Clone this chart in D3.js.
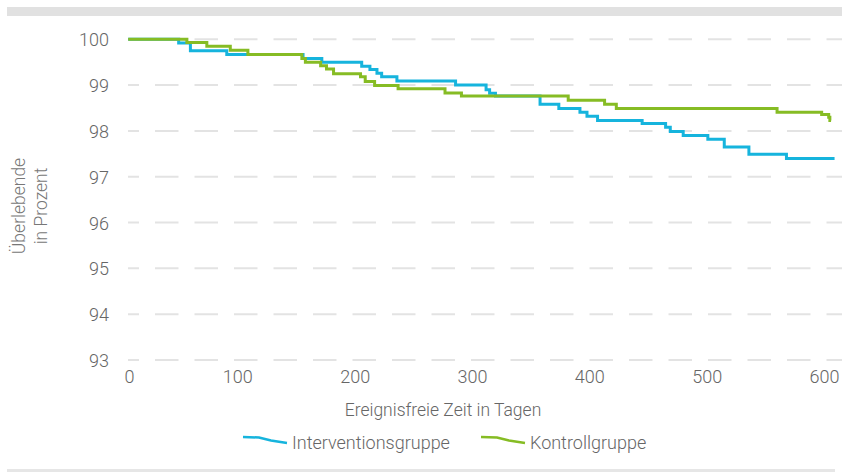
<!DOCTYPE html>
<html>
<head>
<meta charset="utf-8">
<script src="https://cdn.jsdelivr.net/npm/d3@7"></script>
<style>
  body { margin: 0; background: #fff; }
  svg text { font-family: Roboto, "Open Sans", sans-serif; font-weight: 300; fill: #666; }
</style>
</head>
<body>
<svg width="842" height="472"></svg>
<script>
// Kaplan-Meier steps (day, percent)
var interventionDays = [7, 50, 60, 91, 156, 172, 206, 213, 219, 223, 236, 286, 312, 315, 320, 358, 374, 392, 398, 407, 445, 465, 469, 480, 501, 515, 536, 568, 609];
var interventionValues = [100, 99.92, 99.75, 99.67, 99.58, 99.5, 99.41, 99.34, 99.26, 99.18, 99.09, 99.0, 98.9, 98.82, 98.76, 98.58, 98.49, 98.41, 98.32, 98.23, 98.16, 98.08, 97.99, 97.9, 97.82, 97.65, 97.49, 97.4, 97.4];

var kontrollDays = [7, 57, 74, 94, 109, 155, 158, 171, 176, 182, 205, 209, 217, 237, 277, 291, 382, 413, 423, 560, 598, 604, 605, 606];
var kontrollValues = [100, 99.93, 99.85, 99.76, 99.67, 99.58, 99.5, 99.42, 99.35, 99.25, 99.18, 99.08, 98.99, 98.92, 98.83, 98.76, 98.67, 98.58, 98.49, 98.41, 98.36, 98.3, 98.23, 98.23];

var xTicks = [0, 100, 200, 300, 400, 500, 600];
var yTicks = [93, 94, 95, 96, 97, 98, 99, 100];

var seriesNames = ["Interventionsgruppe", "Kontrollgruppe"];
var seriesColors = ["#16b4dd", "#86bc24"];

var svg = d3.select("svg"),
    plotLeft = 128,
    plotRight = 842;

var x = d3.scaleLinear().domain([0, 600]).range([120, 824]),
    y = d3.scaleLinear().domain([93, 100]).range([360, 39.3]);

// grey bars top and bottom
svg.append("rect")
    .attr("x", 7).attr("y", 7)
    .attr("width", 835).attr("height", 9)
    .attr("fill", "#e1e1e1");

svg.append("rect")
    .attr("x", 7).attr("y", 469)
    .attr("width", 828).attr("height", 3)
    .attr("fill", "#e6e6e6");

// dashed gridlines
svg.append("g")
    .selectAll("line")
    .data(yTicks)
    .enter().append("line")
    .attr("x1", plotLeft)
    .attr("x2", plotRight)
    .attr("y1", function(d) { return y(d); })
    .attr("y2", function(d) { return y(d); })
    .attr("stroke", "#e3e3e3")
    .attr("stroke-width", 2)
    .attr("stroke-dasharray", "23.5,16")
    .attr("stroke-dashoffset", 12.5);

// y tick labels
var yAxis = svg.append("g")
    .attr("transform", "translate(109,0)")
    .call(d3.axisLeft(y).tickValues(yTicks).tickFormat(d3.format("d")).tickSize(0).tickPadding(0));
yAxis.select(".domain").remove();
yAxis.selectAll("text")
    .attr("dy", "0.36em")
    .style("font-size", "18px")
    .style("fill", "#666");

// x tick labels
var xAxis = svg.append("g")
    .attr("transform", "translate(0,370)")
    .call(d3.axisBottom(x).tickValues(xTicks).tickFormat(d3.format("d")).tickSize(0).tickPadding(0));
xAxis.select(".domain").remove();
xAxis.selectAll("text")
    .attr("dy", "0.71em")
    .style("font-size", "18px")
    .style("fill", "#666");
// first label is pushed inside the plot, like the original
xAxis.selectAll(".tick").filter(function(d) { return d === 0; })
    .select("text").attr("x", 9);

// axis titles
svg.append("text")
    .attr("x", 443)
    .attr("y", 416)
    .attr("text-anchor", "middle")
    .style("font-size", "17.5px")
    .text("Ereignisfreie Zeit in Tagen");

var yTitle = svg.append("text")
    .attr("transform", "translate(25,206) rotate(-90)")
    .attr("text-anchor", "middle")
    .style("font-size", "17.5px")
    .style("fill", "#777");
yTitle.append("tspan").attr("x", 0).attr("dy", 0).text("Überlebende");
yTitle.append("tspan").attr("x", 0).attr("dy", 22).text("in Prozent");

// survival curves
var line = d3.line()
    .x(function(d) { return x(d[0]); })
    .y(function(d) { return y(d[1]); })
    .curve(d3.curveStepAfter);

var series = [
    d3.zip(interventionDays, interventionValues),
    d3.zip(kontrollDays, kontrollValues)
];

svg.append("g")
    .selectAll("path")
    .data(series)
    .enter().append("path")
    .attr("d", line)
    .attr("fill", "none")
    .attr("stroke", function(d, i) { return seriesColors[i]; })
    .attr("stroke-width", 3)
    .attr("stroke-linejoin", "miter");

// legend
var legendX = [243, 481];
var symbol = d3.line();
seriesNames.forEach(function(name, i) {
    var row = svg.append("g")
        .attr("transform", "translate(" + legendX[i] + ",437)");
    row.append("path")
        .attr("d", symbol([[0, 0], [16, 0.5], [28, 3.5], [44, 6]]))
        .attr("fill", "none")
        .attr("stroke", seriesColors[i])
        .attr("stroke-width", 2.5);
    row.append("text")
        .attr("x", 49)
        .attr("y", 12)
        .style("font-size", "18px")
        .text(name);
});
</script>
</body>
</html>
